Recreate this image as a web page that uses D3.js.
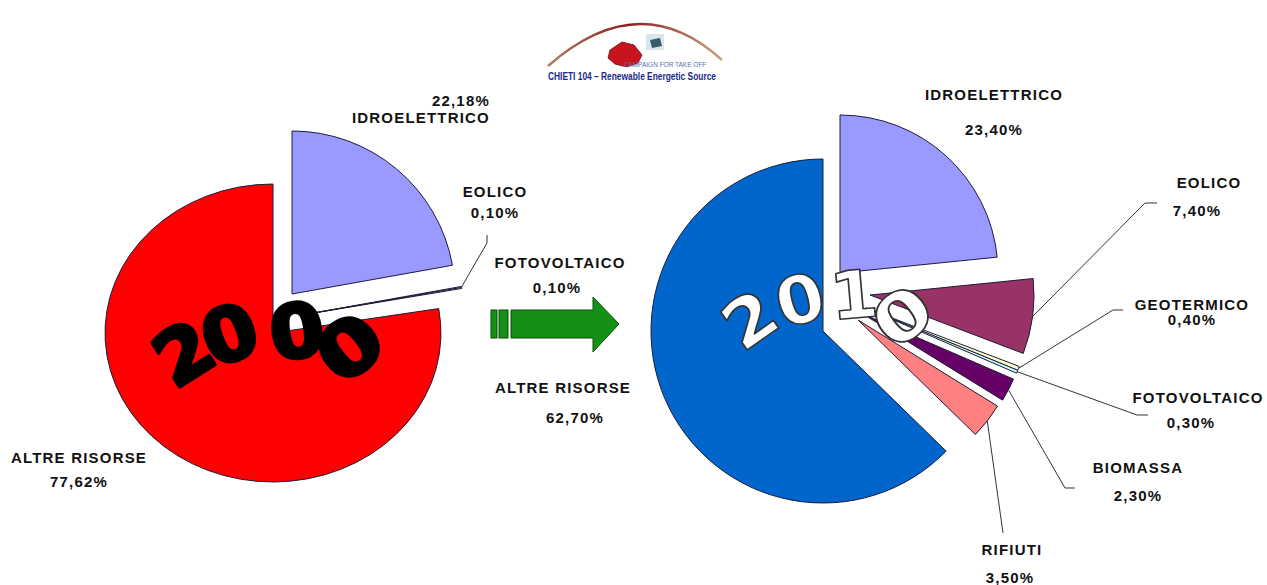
<!DOCTYPE html>
<html>
<head>
<meta charset="utf-8">
<script src="https://cdn.jsdelivr.net/npm/d3@7"></script>
<style>
	body { margin: 0; background: #fff; }
	text { font-family: "Liberation Sans", Arial, sans-serif; font-weight: bold; }
</style>
</head>
<body>
<div id="chart"></div>
<script>
/* jshint esversion: 6 */
////////////////////////////////////////////////////////////////////////////
//// Data //////////////////////////////////////////////////////////////////
////////////////////////////////////////////////////////////////////////////

const sources2000 = ["IDROELETTRICO", "EOLICO", "FOTOVOLTAICO", "ALTRE RISORSE"];
const values2000 = [22.18, 0.10, 0.10, 77.62];

const sources2010 = ["IDROELETTRICO", "EOLICO", "GEOTERMICO", "FOTOVOLTAICO", "BIOMASSA", "RIFIUTI", "ALTRE RISORSE"];
const values2010 = [23.40, 7.40, 0.40, 0.30, 2.30, 3.50, 62.70];

const colors2000 = ["#9999FF", "#E8FFE8", "#FFFFE0", "#FF0000"];
const colors2010 = ["#9999FF", "#993366", "#FFFFCC", "#CCFFFF", "#660066", "#FF8080", "#0066CC"];

////////////////////////////////////////////////////////////////////////////
//// Layout ////////////////////////////////////////////////////////////////
////////////////////////////////////////////////////////////////////////////

const width = 1267,
			height = 585;

// slice offsets from the pie centre (exploded slices) and radii
const layout2000 = {
	year: "2000",
	cx: 282, cy: 312,
	slices: [
		{ dx: 10, dy: -18, rx: 163, ry: 163 },
		{ dx: 20, dy: 3, rx: 162, ry: 162 },
		{ dx: 20, dy: 3, rx: 162, ry: 162 },
		{ dx: -9, dy: 21, rx: 168, ry: 149 }
	],
	labels: [
		{ x: 490, anchor: "end", nameY: 123, valueY: 106 },
		{ x: 495, nameY: 197, valueY: 218 },
		{ x: 560, nameY: 268, valueY: 293, valueX: 557 },
		{ x: 79, nameY: 463, valueY: 487 }
	],
	leaders: [null, [[487, 243], [487, 235]], null, null],
	yearChars: [
		{ x: 184, y: 354, r: -32, s: 1.05 },
		{ x: 230, y: 335, r: -20, s: 1.05 },
		{ x: 297, y: 332, r: -8, s: 1.05 },
		{ x: 350, y: 348, r: -38, s: 1.2 }
	],
	yearSize: 74,
	yearFill: "#000",
	yearStroke: "#000",
	yearStrokeWidth: 4
};

const layout2010 = {
	year: "2010",
	cx: 840, cy: 305,
	slices: [
		{ dx: 0, dy: -32, rx: 158, ry: 158 },
		{ dx: 30, dy: -10, rx: 164, ry: 164 },
		{ dx: 26, dy: 3, rx: 164, ry: 164 },
		{ dx: 26, dy: 3, rx: 164, ry: 164 },
		{ dx: 23, dy: 9, rx: 164, ry: 164 },
		{ dx: 18, dy: 15, rx: 164, ry: 164 },
		{ dx: -17, dy: 26, rx: 172, ry: 172 }
	],
	labels: [
		{ x: 994, nameY: 100, valueY: 135 },
		{ x: 1209, nameY: 188, valueY: 216, valueX: 1197 },
		{ x: 1192, nameY: 310, valueY: 325 },
		{ x: 1198, nameY: 403, valueY: 428, valueX: 1191 },
		{ x: 1138, nameY: 473, valueY: 501 },
		{ x: 1012, nameY: 555, valueY: 583, valueX: 1010 },
		{ x: 563, nameY: 393, valueY: 423, valueX: 575 }
	],
	leaders: [
		null,
		[[1145, 203], [1157, 203]],
		[[1113, 310], [1123, 310]],
		[[1137, 415], [1148, 415]],
		[[1065, 488], [1075, 488]],
		[[1003, 533]],
		null
	],
	yearChars: [
		{ x: 750, y: 320, r: -35, s: 1.1 },
		{ x: 800, y: 300, r: -15, s: 1.05 },
		{ x: 854, y: 295, r: -5, s: 1.05 },
		{ x: 903, y: 317, r: -38, s: 1.25 }
	],
	yearSize: 66,
	yearFill: "#fff",
	yearStroke: "#333",
	yearStrokeWidth: 1.6
};

const svg = d3.select("#chart").append("svg")
		.attr("width", width)
		.attr("height", height)
		.style("display", "block");

svg.append("rect")
		.attr("width", width)
		.attr("height", height)
		.attr("fill", "#fff");

const itFormat = d3.formatLocale({ decimal: ",", thousands: ".", grouping: [3], currency: ["", "€"] }).format(".2f");

////////////////////////////////////////////////////////////////////////////
//// Pies //////////////////////////////////////////////////////////////////
////////////////////////////////////////////////////////////////////////////

const pie = d3.pie().sort(null).value(d => d);
const arc = d3.arc().innerRadius(0).outerRadius(100);

drawPie(sources2000, values2000, colors2000, layout2000);
drawPie(sources2010, values2010, colors2010, layout2010);

function drawPie(sources, values, colors, layout) {
	const arcs = pie(values);
	const g = svg.append("g");

	// slices
	g.selectAll(".slice")
		.data(arcs)
		.enter().append("path")
			.attr("class", "slice")
			.attr("d", arc)
			.attr("transform", (d, i) => {
				const s = layout.slices[i];
				return `translate(${layout.cx + s.dx},${layout.cy + s.dy}) scale(${s.rx / 100},${s.ry / 100})`;
			})
			.attr("fill", (d, i) => colors[i])
			.attr("stroke", "#1c1c3a")
			.attr("stroke-width", 1)
			.attr("vector-effect", "non-scaling-stroke");

	// year word-art
	g.selectAll(".year")
		.data(layout.yearChars)
		.enter().append("text")
			.attr("class", "year")
			.attr("transform", d => `translate(${d.x},${d.y}) rotate(${d.r}) scale(${d.s},1)`)
			.attr("text-anchor", "middle")
			.attr("dominant-baseline", "central")
			.style("font-family", "'DejaVu Sans', sans-serif")
			.style("font-weight", "bold")
			.style("font-size", layout.yearSize + "px")
			.attr("fill", layout.yearFill)
			.attr("stroke", layout.yearStroke)
			.attr("stroke-width", layout.yearStrokeWidth)
			.attr("stroke-linejoin", "round")
			.text((d, i) => layout.year[i]);

	// leader lines from the outer edge of each slice
	const line = d3.line();
	arcs.forEach((d, i) => {
		const pts = layout.leaders[i];
		if (!pts) return;
		const s = layout.slices[i];
		const mid = (d.startAngle + d.endAngle) / 2;
		const start = [layout.cx + s.dx + s.rx * Math.sin(mid), layout.cy + s.dy - s.ry * Math.cos(mid)];
		g.append("path")
				.attr("d", line([start].concat(pts)))
				.attr("fill", "none")
				.attr("stroke", "#333")
				.attr("stroke-width", 1);
	});

	// labels
	const labels = g.selectAll(".label")
		.data(arcs)
		.enter().append("g")
			.attr("class", "label");
	labels.append("text")
			.attr("x", (d, i) => layout.labels[i].x)
			.attr("y", (d, i) => layout.labels[i].nameY)
			.attr("text-anchor", (d, i) => layout.labels[i].anchor || "middle")
			.style("font-size", "15px")
			.style("letter-spacing", "1.2px")
			.attr("fill", "#111")
			.text((d, i) => sources[i]);
	labels.append("text")
			.attr("x", (d, i) => layout.labels[i].valueX || layout.labels[i].x)
			.attr("y", (d, i) => layout.labels[i].valueY)
			.attr("text-anchor", (d, i) => layout.labels[i].anchor || "middle")
			.style("font-size", "15px")
			.style("letter-spacing", "1.2px")
			.attr("fill", "#111")
			.text(d => itFormat(d.value) + "%");
}

////////////////////////////////////////////////////////////////////////////
//// Arrow /////////////////////////////////////////////////////////////////
////////////////////////////////////////////////////////////////////////////

const arrow = svg.append("g")
		.attr("fill", "#149014")
		.attr("stroke", "#0b4d0b")
		.attr("stroke-width", 1);
arrow.append("rect").attr("x", 491).attr("y", 310).attr("width", 6).attr("height", 28);
arrow.append("rect").attr("x", 499).attr("y", 310).attr("width", 9).attr("height", 28);
arrow.append("path").attr("d", "M511,310 H593 V297 L619,324 L593,352 V338 H511 Z");

////////////////////////////////////////////////////////////////////////////
//// Logo //////////////////////////////////////////////////////////////////
////////////////////////////////////////////////////////////////////////////

const defs = svg.append("defs");
const grad = defs.append("linearGradient").attr("id", "arcGrad");
grad.append("stop").attr("offset", "0%").attr("stop-color", "#b08060");
grad.append("stop").attr("offset", "45%").attr("stop-color", "#8b1c1c");
grad.append("stop").attr("offset", "100%").attr("stop-color", "#c8a080");

const logo = svg.append("g");
logo.append("path")
		.attr("d", "M548,66 Q640,-15 722,60")
		.attr("fill", "none")
		.attr("stroke", "url(#arcGrad)")
		.attr("stroke-width", 2.5);
logo.append("path")
		.attr("d", "M610,50 L622,42 L634,45 L642,55 L638,63 L627,67 L615,64 L608,58 Z")
		.attr("fill", "#c8141e")
		.attr("stroke", "#6a0a0a")
		.attr("stroke-width", 0.8);
logo.append("rect")
		.attr("x", 646).attr("y", 34).attr("width", 18).attr("height", 16)
		.attr("fill", "#d8e6ee");
logo.append("path")
		.attr("d", "M650,40 L660,38 L662,46 L652,48 Z")
		.attr("fill", "#3a5a6a");
logo.append("text")
		.attr("x", 665).attr("y", 67)
		.attr("text-anchor", "middle")
		.style("font-size", "6.5px")
		.style("font-weight", "normal")
		.attr("fill", "#5a6fb0")
		.text("CAMPAIGN FOR TAKE OFF");
logo.append("text")
		.attr("x", 548).attr("y", 80)
		.attr("textLength", 168)
		.attr("lengthAdjust", "spacingAndGlyphs")
		.style("font-size", "10.5px")
		.attr("fill", "#1a2a8a")
		.text("CHIETI 104 – Renewable Energetic Source");
</script>
</body>
</html>
